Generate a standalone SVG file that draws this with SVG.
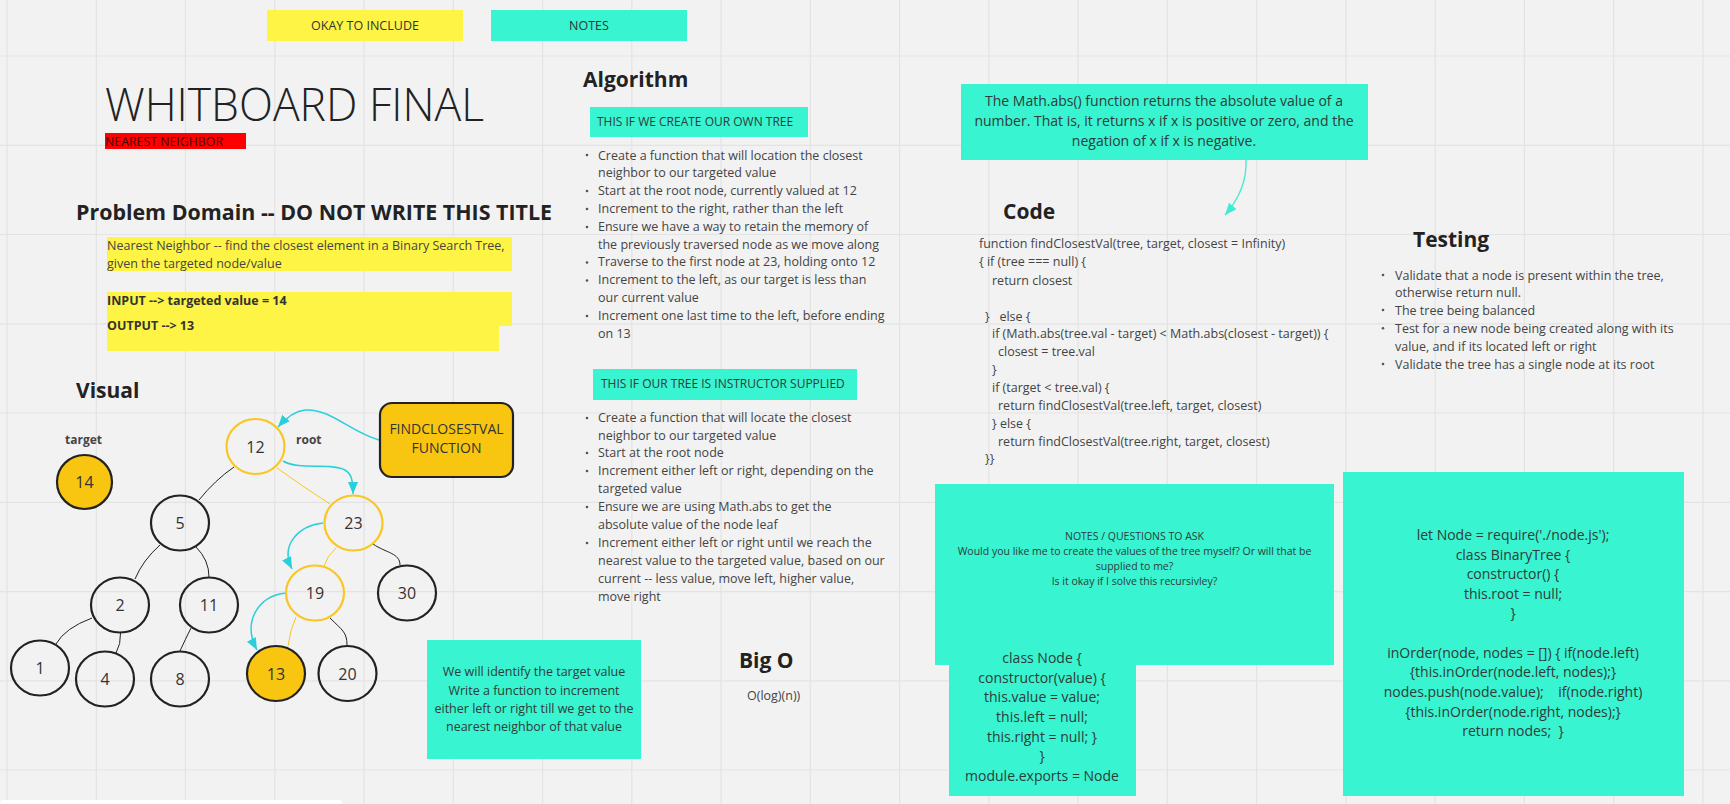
<svg xmlns="http://www.w3.org/2000/svg" width="1730" height="804" viewBox="0 0 1730 804">
<style>
text{font-family:"Open Sans","Noto Sans",sans-serif;}
.h{font-weight:700;font-size:21px;fill:#222}
.b{font-size:12.5px;fill:#444}
.c{font-size:12.5px;fill:#444}
.n{font-size:16px;fill:#333;text-anchor:middle}
.m{text-anchor:middle}
.yel{fill:#fef445}
.tq{fill:#38f4d0}
.grid line{stroke:#e3e3e3;stroke-width:1.2}
.edge{fill:none;stroke:#222;stroke-width:1}
.yedge{fill:none;stroke:#f9c623;stroke-width:1}
.carrow{fill:none;stroke:#2acfdc;stroke-width:1.5;marker-end:url(#ah)}
.node-b{fill:none;stroke:#222;stroke-width:2.2}
.node-y{fill:none;stroke:#f9c623;stroke-width:2.2}
.node-f{fill:#f8c611;stroke:#222;stroke-width:2.2}
.dot{fill:#555}
.note{fill:#2f3b39}
</style>
<defs>
<marker id="ah" markerUnits="userSpaceOnUse" markerWidth="13" markerHeight="10" refX="12" refY="5" orient="auto">
<path d="M0,0 L12,5 L0,10 z" fill="#2acfdc"/>
</marker>
<marker id="ah2" markerUnits="userSpaceOnUse" markerWidth="13" markerHeight="10" refX="12" refY="5" orient="auto">
<path d="M0,0 L12,5 L0,10 z" fill="#40ecd0"/>
</marker>
</defs>
<rect x="0" y="0" width="1730" height="804" fill="#f2f2f2"/>
<g class="grid">
<line x1="7" y1="0" x2="7" y2="804"/><line x1="96.3" y1="0" x2="96.3" y2="804"/><line x1="185.5" y1="0" x2="185.5" y2="804"/><line x1="274.8" y1="0" x2="274.8" y2="804"/><line x1="364" y1="0" x2="364" y2="804"/><line x1="453.3" y1="0" x2="453.3" y2="804"/><line x1="542.6" y1="0" x2="542.6" y2="804"/><line x1="631.8" y1="0" x2="631.8" y2="804"/><line x1="721.1" y1="0" x2="721.1" y2="804"/><line x1="810.3" y1="0" x2="810.3" y2="804"/><line x1="899.6" y1="0" x2="899.6" y2="804"/><line x1="988.9" y1="0" x2="988.9" y2="804"/><line x1="1078.1" y1="0" x2="1078.1" y2="804"/><line x1="1167.4" y1="0" x2="1167.4" y2="804"/><line x1="1256.6" y1="0" x2="1256.6" y2="804"/><line x1="1345.9" y1="0" x2="1345.9" y2="804"/><line x1="1435.2" y1="0" x2="1435.2" y2="804"/><line x1="1524.4" y1="0" x2="1524.4" y2="804"/><line x1="1613.7" y1="0" x2="1613.7" y2="804"/><line x1="1702.9" y1="0" x2="1702.9" y2="804"/>
<line x1="0" y1="56" x2="1730" y2="56"/><line x1="0" y1="145.3" x2="1730" y2="145.3"/><line x1="0" y1="234.5" x2="1730" y2="234.5"/><line x1="0" y1="323.8" x2="1730" y2="323.8"/><line x1="0" y1="413" x2="1730" y2="413"/><line x1="0" y1="502.3" x2="1730" y2="502.3"/><line x1="0" y1="591.6" x2="1730" y2="591.6"/><line x1="0" y1="680.8" x2="1730" y2="680.8"/><line x1="0" y1="770" x2="1730" y2="770"/>
</g>
<rect x="0" y="800" width="342" height="6" rx="3" fill="#ffffff"/>

<g id="legend-okay"><rect class="yel" x="267" y="10" width="196" height="31"/><text class="m" x="365" y="30" font-size="12.5" fill="#333">OKAY TO INCLUDE</text></g>
<g id="legend-notes"><rect class="tq" x="491" y="10" width="196" height="31"/><text class="m" x="589" y="30" font-size="12.5" fill="#333">NOTES</text></g>

<g id="title">
<text x="105" y="121" font-size="46" font-weight="300" fill="#222" textLength="379" lengthAdjust="spacingAndGlyphs">WHITBOARD FINAL</text>
<rect x="105" y="133" width="141" height="16" fill="#ff0000"/>
<text x="105" y="146" font-size="12.5" fill="#3b0a0a" textLength="118" lengthAdjust="spacingAndGlyphs">NEAREST NEIGHBOR</text>
</g>

<g id="problem-domain">
<text class="h" x="76" y="220" textLength="476" lengthAdjust="spacingAndGlyphs">Problem Domain -- DO NOT WRITE THIS TITLE</text>
<rect class="yel" x="107" y="237" width="405" height="34"/>
<text class="b" x="107" y="250" fill="#444">Nearest Neighbor -- find the closest element in a Binary Search Tree,</text>
<text class="b" x="107" y="268">given the targeted node/value</text>
<rect class="yel" x="107" y="292" width="405" height="34"/>
<rect class="yel" x="107" y="292" width="392" height="59"/>
<text x="107" y="305" font-size="12.5" font-weight="700" fill="#333">INPUT --&gt; targeted value = 14</text>
<text x="107" y="330" font-size="12.5" font-weight="700" fill="#333">OUTPUT --&gt; 13</text>
</g>

<g id="algorithm">
<text class="h" x="583" y="87">Algorithm</text>
<rect class="tq" x="590" y="107" width="218" height="30"/>
<text x="597" y="126" font-size="12" fill="#2f3b39">THIS IF WE CREATE OUR OWN TREE</text>
<g class="dot"><circle cx="587" cy="155" r="1.3"/><circle cx="587" cy="191" r="1.3"/><circle cx="587" cy="209" r="1.3"/><circle cx="587" cy="227" r="1.3"/><circle cx="587" cy="262.5" r="1.3"/><circle cx="587" cy="280.5" r="1.3"/><circle cx="587" cy="316" r="1.3"/></g>
<text class="b" x="598" y="159.5">Create a function that will location the closest</text>
<text class="b" x="598" y="177.3">neighbor to our targeted value</text>
<text class="b" x="598" y="195.1">Start at the root node, currently valued at 12</text>
<text class="b" x="598" y="212.9">Increment to the right, rather than the left</text>
<text class="b" x="598" y="230.7">Ensure we have a way to retain the memory of</text>
<text class="b" x="598" y="248.5">the previously traversed node as we move along</text>
<text class="b" x="598" y="266.3">Traverse to the first node at 23, holding onto 12</text>
<text class="b" x="598" y="284.1">Increment to the left, as our target is less than</text>
<text class="b" x="598" y="301.9">our current value</text>
<text class="b" x="598" y="319.7">Increment one last time to the left, before ending</text>
<text class="b" x="598" y="337.5">on 13</text>

<rect class="tq" x="593" y="369" width="264" height="31"/>
<text x="601" y="388" font-size="12" fill="#2f3b39">THIS IF OUR TREE IS INSTRUCTOR SUPPLIED</text>
<g class="dot"><circle cx="587" cy="418" r="1.3"/><circle cx="587" cy="453" r="1.3"/><circle cx="587" cy="471" r="1.3"/><circle cx="587" cy="507" r="1.3"/><circle cx="587" cy="543" r="1.3"/></g>
<text class="b" x="598" y="422">Create a function that will locate the closest</text>
<text class="b" x="598" y="439.5">neighbor to our targeted value</text>
<text class="b" x="598" y="457">Start at the root node</text>
<text class="b" x="598" y="475">Increment either left or right, depending on the</text>
<text class="b" x="598" y="493">targeted value</text>
<text class="b" x="598" y="511">Ensure we are using Math.abs to get the</text>
<text class="b" x="598" y="529">absolute value of the node leaf</text>
<text class="b" x="598" y="547">Increment either left or right until we reach the</text>
<text class="b" x="598" y="564.5">nearest value to the targeted value, based on our</text>
<text class="b" x="598" y="582.5">current -- less value, move left, higher value,</text>
<text class="b" x="598" y="600.5">move right</text>
</g>

<g id="math-abs-note">
<rect class="tq" x="961" y="84" width="407" height="76"/>
<text class="m note" x="1164" y="106" font-size="14">The Math.abs() function returns the absolute value of a</text>
<text class="m note" x="1164" y="126" font-size="14">number. That is, it returns x if x is positive or zero, and the</text>
<text class="m note" x="1164" y="146" font-size="14">negation of x if x is negative.</text>
</g>

<g id="code">
<text class="h" x="1003" y="219">Code</text>
<text class="c" x="979" y="248">function findClosestVal(tree, target, closest = Infinity)</text>
<text class="c" x="979" y="266">{ if (tree === null) {</text>
<text class="c" x="992" y="284.5">return closest</text>
<text class="c" x="985" y="320.5">}&#160;&#160; else {</text>
<text class="c" x="992" y="338">if (Math.abs(tree.val - target) &lt; Math.abs(closest - target)) {</text>
<text class="c" x="998" y="355.5">closest = tree.val</text>
<text class="c" x="992" y="373.5">}</text>
<text class="c" x="992" y="391.5">if (target &lt; tree.val) {</text>
<text class="c" x="998" y="409.5">return findClosestVal(tree.left, target, closest)</text>
<text class="c" x="992" y="427.5">} else {</text>
<text class="c" x="998" y="445.5">return findClosestVal(tree.right, target, closest)</text>
<text class="c" x="985" y="463">}}</text>
</g>

<g id="testing">
<text class="h" x="1413" y="247">Testing</text>
<g class="dot"><circle cx="1383" cy="275" r="1.3"/><circle cx="1383" cy="310" r="1.3"/><circle cx="1383" cy="328.3" r="1.3"/><circle cx="1383" cy="364" r="1.3"/></g>
<text class="b" x="1395" y="279.5">Validate that a node is present within the tree,</text>
<text class="b" x="1395" y="297">otherwise return null.</text>
<text class="b" x="1395" y="314.5">The tree being balanced</text>
<text class="b" x="1395" y="333">Test for a new node being created along with its</text>
<text class="b" x="1395" y="350.5">value, and if its located left or right</text>
<text class="b" x="1395" y="368.5">Validate the tree has a single node at its root</text>
</g>

<g id="questions-note">
<rect class="tq" x="935" y="484" width="399" height="181"/>
<text class="m note" x="1134.5" y="539.5" font-size="10.5">NOTES / QUESTIONS TO ASK</text>
<text class="m note" x="1134.5" y="554.5" font-size="10.5">Would you like me to create the values of the tree myself? Or will that be</text>
<text class="m note" x="1134.5" y="569.5" font-size="10.5">supplied to me?</text>
<text class="m note" x="1134.5" y="584.5" font-size="10.5">Is it okay if I solve this recursivley?</text>
</g>

<g id="class-node-note">
<rect class="tq" x="949" y="640" width="187" height="156"/>
<text class="m note" x="1042" y="663" font-size="14">class Node {</text>
<text class="m note" x="1042" y="683" font-size="14">constructor(value) {</text>
<text class="m note" x="1042" y="702" font-size="14">this.value = value;</text>
<text class="m note" x="1042" y="722" font-size="14">this.left = null;</text>
<text class="m note" x="1042" y="742" font-size="14">this.right = null; }</text>
<text class="m note" x="1042" y="761" font-size="14">}</text>
<text class="m note" x="1042" y="781" font-size="14">module.exports = Node</text>
</g>

<g id="binary-tree-note">
<rect class="tq" x="1343" y="472" width="341" height="324"/>
<text class="m note" x="1513" y="540" font-size="14">let Node = require('./node.js');</text>
<text class="m note" x="1513" y="559.5" font-size="14">class BinaryTree {</text>
<text class="m note" x="1513" y="579" font-size="14">constructor() {</text>
<text class="m note" x="1513" y="598.5" font-size="14">this.root = null;</text>
<text class="m note" x="1513" y="618" font-size="14">}</text>
<text class="m note" x="1513" y="657.5" font-size="14">inOrder(node, nodes = []) { if(node.left)</text>
<text class="m note" x="1513" y="677" font-size="14">{this.inOrder(node.left, nodes);}</text>
<text class="m note" x="1513" y="696.5" font-size="14">nodes.push(node.value);&#160;&#160;&#160; if(node.right)</text>
<text class="m note" x="1513" y="716.5" font-size="14">{this.inOrder(node.right, nodes);}</text>
<text class="m note" x="1513" y="736" font-size="14">return nodes;&#160; }</text>
</g>

<g id="big-o">
<text class="h" x="739" y="668">Big O</text>
<text class="b" x="747" y="700">O(log)(n))</text>
</g>

<g id="visual-title"><text class="h" x="76" y="398">Visual</text></g>
<g id="label-target"><text x="65" y="444" font-size="12" font-weight="700" fill="#444">target</text></g>
<g id="label-root"><text x="296" y="444" font-size="12" font-weight="700" fill="#444">root</text></g>

<g id="connectors">
<path class="edge" d="M234,467 Q215,480 199,500"/>
<path class="yedge" d="M277,468 Q302,486 330,504"/>
<path class="edge" d="M160,545 Q143,560 135,579"/>
<path class="edge" d="M196,547 Q209,560 209,577"/>
<path class="yedge" d="M336,548 Q327,556 324,566"/>
<path class="edge" d="M373,544 C386,553 400,553 400,565"/>
<path class="edge" d="M92,618 Q65,628 56,644"/>
<path class="edge" d="M120.5,633 Q121,644 116,653"/>
<path class="edge" d="M191,628 Q185,640 180,651"/>
<path class="yedge" d="M296,617 Q290,630 288,646"/>
<path class="edge" d="M330,618 C342,630 347,632 347,645"/>
<path class="carrow" d="M379,440 C350,432 330,408 305,410 C295,411 286,418 278,427"/>
<path class="carrow" d="M283,461 C300,471 330,462 345,470 C352,474 353,482 353,494"/>
<path class="carrow" d="M323,523 C298,526 280,545 292,569"/>
<path class="carrow" d="M286,593 C258,596 242,622 257,650"/>
<path fill="none" stroke="#40ecd0" stroke-width="1.3" marker-end="url(#ah2)" d="M1246,160 C1247,182 1238,200 1225,215"/>
</g>

<g id="node-14"><ellipse class="node-f" cx="84.5" cy="482" rx="27.5" ry="27"/><text class="n" x="84.5" y="488">14</text></g>
<g id="node-12"><ellipse class="node-y" cx="255.5" cy="446.5" rx="29" ry="27.5"/><text class="n" x="255.5" y="452.5">12</text></g>
<g id="node-5"><ellipse class="node-b" cx="180" cy="523" rx="29" ry="27.5"/><text class="n" x="180" y="529">5</text></g>
<g id="node-23"><ellipse class="node-y" cx="353.5" cy="523" rx="29" ry="27.5"/><text class="n" x="353.5" y="529">23</text></g>
<g id="node-2"><ellipse class="node-b" cx="120" cy="605" rx="29" ry="27.5"/><text class="n" x="120" y="611">2</text></g>
<g id="node-11"><ellipse class="node-b" cx="209" cy="605" rx="29" ry="27.5"/><text class="n" x="209" y="611">11</text></g>
<g id="node-19"><ellipse class="node-y" cx="315" cy="593" rx="29" ry="27.5"/><text class="n" x="315" y="599">19</text></g>
<g id="node-30"><ellipse class="node-b" cx="407" cy="593" rx="29" ry="27.5"/><text class="n" x="407" y="599">30</text></g>
<g id="node-1"><ellipse class="node-b" cx="40" cy="668" rx="29" ry="27.5"/><text class="n" x="40" y="674">1</text></g>
<g id="node-4"><ellipse class="node-b" cx="105" cy="679" rx="29" ry="27.5"/><text class="n" x="105" y="685">4</text></g>
<g id="node-8"><ellipse class="node-b" cx="180" cy="679" rx="29" ry="27.5"/><text class="n" x="180" y="685">8</text></g>
<g id="node-13"><ellipse class="node-f" cx="276" cy="673.5" rx="29" ry="27.5"/><text class="n" x="276" y="679.5">13</text></g>
<g id="node-20"><ellipse class="node-b" cx="347.5" cy="673.5" rx="29" ry="27.5"/><text class="n" x="347.5" y="679.5">20</text></g>

<g id="findclosestval-box">
<rect x="380" y="403" width="133" height="74" rx="12" fill="#f8c611" stroke="#222" stroke-width="2.2"/>
<text class="m" x="446.5" y="434" font-size="14" fill="#333">FINDCLOSESTVAL</text>
<text class="m" x="446.5" y="453" font-size="14" fill="#333">FUNCTION</text>
</g>

<g id="identify-note">
<rect class="tq" x="427" y="640" width="214" height="119"/>
<text class="m note" x="534" y="676" font-size="12.5">We will identify the target value</text>
<text class="m note" x="534" y="694.5" font-size="12.5">Write a function to increment</text>
<text class="m note" x="534" y="713" font-size="12.5">either left or right till we get to the</text>
<text class="m note" x="534" y="730.5" font-size="12.5">nearest neighbor of that value</text>
</g>
</svg>
